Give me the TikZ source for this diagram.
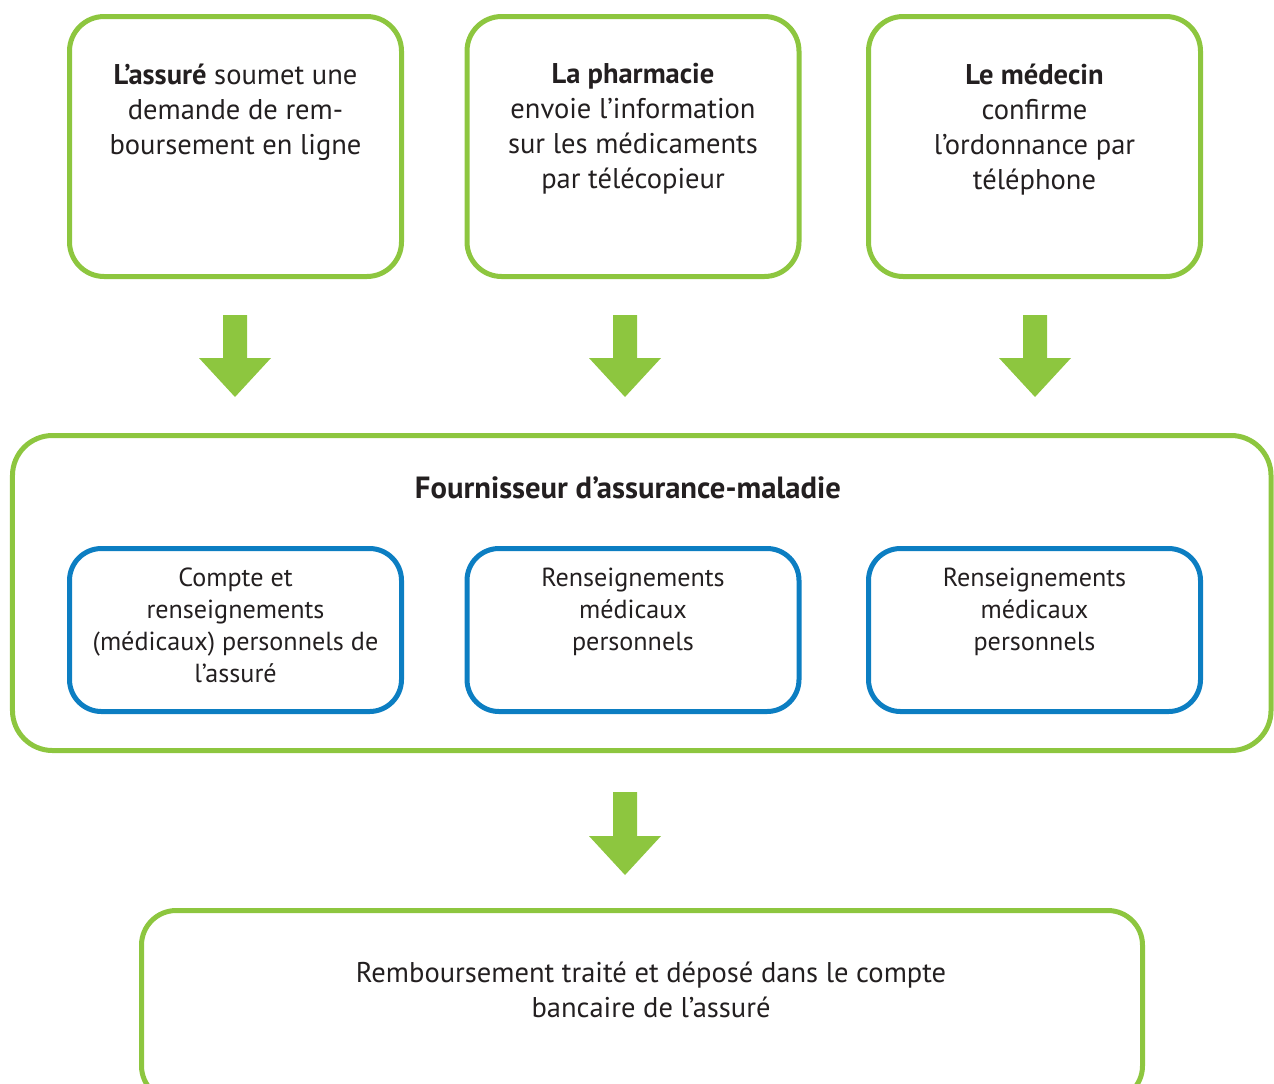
\documentclass[tikz,border=0pt]{standalone}
\usepackage{fontspec}
\setmainfont{PT Sans}
\usetikzlibrary{calc}
\definecolor{grn}{RGB}{141,198,63}
\definecolor{blu}{RGB}{12,126,194}
\definecolor{txt}{RGB}{35,31,32}
\tikzset{every picture/.style={line width=0.75pt}}
\tikzset{
  greenbox/.style={draw=grn, line width=3.75pt, rounded corners=26pt, inner sep=0pt},
  bluebox/.style={draw=blu, line width=3.75pt, rounded corners=24pt, inner sep=0pt, minimum width=249pt, minimum height=122.25pt},
  stepbox/.style={greenbox, minimum width=249pt, minimum height=195pt},
  boxtext/.style={anchor=north, inner sep=0pt, align=center, text=txt, font=\fontsize{21.4}{26.25}\selectfont},
  infotext/.style={boxtext, font=\fontsize{19.6}{24}\selectfont}
}
\newcommand{\fatarrow}[2]{\fill[grn, shift={(#1)}] (-12,0) -- (12,0) -- (12,#2-39) -- (36,#2-39) -- (0,#2) -- (-36,#2-39) -- (-12,#2-39) -- cycle;}

\begin{document}
\begin{tikzpicture}[x=0.75pt,y=0.75pt,yscale=-1,xscale=1]
\useasboundingbox (0,0) rectangle (1274,1083);
\clip (0,0) rectangle (1274,1083);

% Top boxes
\node[stepbox] (assure) at (235.5,146.5) {};
\node[stepbox] (pharma) at (633,146.5) {};
\node[stepbox] (medecin) at (1034.5,146.5) {};
% Text Node
\node[boxtext] (assuretxt) at (235.5,63) {\textbf{L’assuré} soumet une\\demande de rem-\\boursement en ligne};
\node[boxtext] (pharmatxt) at (633,63) {\textbf{La pharmacie}\\envoie l’information\\sur les médicaments\\par télécopieur};
\node[boxtext] (medecintxt) at (1034.5,63) {\textbf{Le médecin}\\confirme\\l’ordonnance par\\téléphone};

% Arrows
\coordinate (a1) at (235,315);
\coordinate (a2) at (625,315);
\coordinate (a3) at (1035,315);
\fatarrow{a1}{82}
\fatarrow{a2}{82}
\fatarrow{a3}{82}

% Insurer
\node[greenbox, rounded corners=30pt, minimum width=943.9pt, minimum height=236.25pt] (assureur) at (641.75,593) {};
\node[boxtext, font=\fontsize{23}{27}\selectfont] (assureurtxt) at (628,476) {\textbf{Fournisseur d’assurance-maladie}};
\node[bluebox] (compte) at (235.5,630) {};
\node[bluebox] (rens1) at (633,630) {};
\node[bluebox] (rens2) at (1034.5,630) {};
\node[infotext] (comptetxt) at (235.5,567) {Compte et\\renseignements\\(médicaux) personnels de\\l’assuré};
\node[infotext] (rens1txt) at (633,567) {Renseignements\\médicaux\\personnels};
\node[infotext] (rens2txt) at (1034.5,567) {Renseignements\\médicaux\\personnels};

% Arrow
\coordinate (a4) at (625,792);
\fatarrow{a4}{83}

% Result
\node[greenbox, minimum width=750.75pt, minimum height=142.5pt] (rembours) at (642,1005.5) {};
\node[boxtext] (rembourstxt) at (651,961) {Remboursement traité et déposé dans le compte\\bancaire de l’assuré};

\end{tikzpicture}
\end{document}
